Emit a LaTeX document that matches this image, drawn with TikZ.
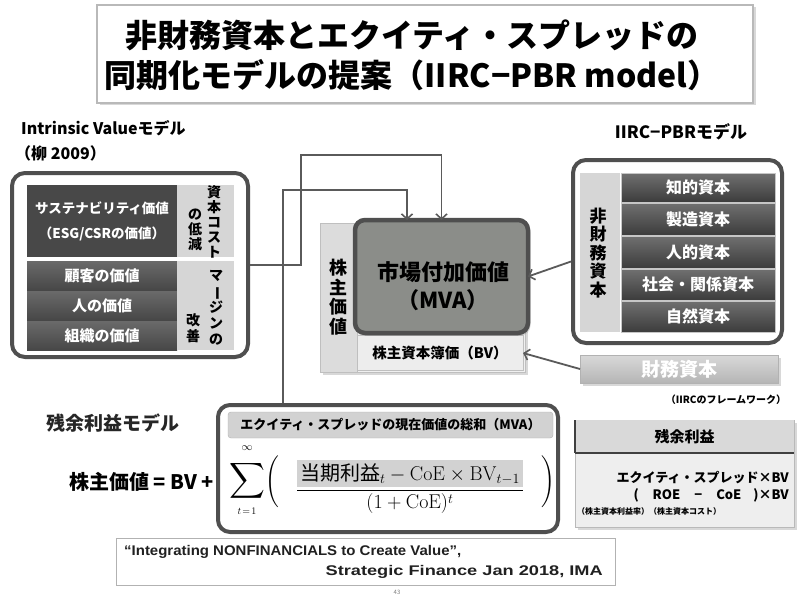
\documentclass[tikz,border=0pt]{standalone}
\usepackage{fix-cm}
\usepackage{amsmath}
\usepackage{graphicx}
\usepackage[no-math]{fontspec}
\setmainfont{Noto Sans CJK JP}
\newfontfamily\citefont{Liberation Sans}
\usetikzlibrary{arrows.meta,calc,shadows}
\definecolor{frame}{HTML}{4F4F4F}
\definecolor{darkbox}{HTML}{484848}
\definecolor{midtop}{HTML}{6A6A6A}
\definecolor{midbot}{HTML}{474747}
\definecolor{rowtop}{HTML}{707070}
\definecolor{rowbot}{HTML}{3C3C3C}
\definecolor{lightcol}{HTML}{D6D6D6}
\definecolor{mvafill}{HTML}{8B8D89}
\definecolor{hl}{HTML}{D2D2D2}
\definecolor{linec}{HTML}{5A5A5A}
\newcommand{\fs}[1]{\fontsize{#1}{#1}\selectfont}
\newcommand{\vbar}{\rotatebox[origin=c]{-90}{ー}}
\tikzset{
  bigframe/.style={draw=frame, line width=4pt, rounded corners=13pt, fill=white, inner sep=0pt},
  cell/.style={inner sep=0pt, outer sep=0pt, align=center},
  darkcell/.style={cell, fill=darkbox, text=white, font=\bfseries\fontsize{13.5}{25}\selectfont},
  midcell/.style={cell, top color=midtop, bottom color=midbot, text=white, minimum width=150pt, minimum height=29pt, font=\bfseries\fs{15}},
  lightcell/.style={cell, fill=lightcol},
  vtext/.style={cell, font=\bfseries\fontsize{14}{15}\selectfont},
  rowcell/.style={cell, top color=rowtop, bottom color=rowbot, draw=gray!45, line width=0.6pt, text=white, minimum width=154pt, font=\bfseries\fs{16}},
  conn/.style={draw=linec, line width=1.8pt, -{Straight Barb[length=5pt,width=11pt,line width=1.6pt]}},
  softshadow/.style={drop shadow={shadow xshift=2.5pt, shadow yshift=-2.5pt, opacity=0.3}}
}
\begin{document}
\begin{tikzpicture}[x=1pt,y=-1pt]
\useasboundingbox (0,0) rectangle (797,599);
\fill[white] (0,0) rectangle (797,599);

% ---------- title ----------
\node[cell, draw=gray!55, line width=1.2pt, fill=white, minimum width=656pt, minimum height=98pt, softshadow] (titlebox) at (425,54) {};
\node[cell, font=\bfseries\fontsize{32}{40}\selectfont] (title) at (412,55) {非財務資本とエクイティ・スプレッドの\\同期化モデルの提案（IIRC−PBR model）};

% ---------- left: intrinsic value model ----------
\node[anchor=west, inner sep=0pt, font=\bfseries\fs{16}] (ivl) at (21,128) {Intrinsic Valueモデル};
\node[anchor=west, inner sep=0pt, font=\bfseries\fs{16}] (ivy) at (15,153) {（柳 2009）};

\node[bigframe, minimum width=236pt, minimum height=184pt] (L) at (130,265) {};
\node[darkcell, minimum width=150pt, minimum height=72pt] (sus) at (102,221) {サステナビリティ価値\\（ESG/CSRの価値）};
\node[lightcell, minimum width=57pt, minimum height=72pt] (c1) at (205.5,221) {};
\node[vtext] (c1a) at (214,222) {資\\本\\コ\\ス\\ト};
\node[vtext] (c1b) at (195,230) {の\\低\\減};
\node[midcell] (kok) at (102,275.5) {顧客の価値};
\node[midcell] (hit) at (102,305.5) {人の価値};
\node[midcell] (sos) at (102,335.5) {組織の価値};
\node[lightcell, minimum width=57pt, minimum height=89pt] (c2) at (205.5,305.5) {};
\node[vtext, font=\bfseries\fontsize{14}{16}\selectfont] (c2a) at (216,308) {マ\\\vbar\\ジ\\ン\\の};
\node[vtext, font=\bfseries\fontsize{14}{16}\selectfont] (c2b) at (193,328) {改\\善};

% ---------- middle: shareholder value ----------
\node[cell, draw=gray!50, fill=gray!12, minimum width=205pt, minimum height=149pt, softshadow] (shbg) at (422.5,297.5) {};
\node[cell, fill=lightcol!85, draw=gray!50, minimum width=37pt, minimum height=149pt] (shv) at (338.5,297.5) {};
\node[vtext, font=\bfseries\fontsize{18}{19.5}\selectfont] (shvt) at (338.5,297) {株\\主\\価\\値};
\node[cell, fill=gray!14, draw=gray!50, minimum width=166pt, minimum height=35pt, font=\bfseries\fs{14.5}] (bv) at (440,353) {株主資本簿価（BV）};
\node[cell, draw=frame, line width=4.5pt, rounded corners=10pt, fill=mvafill, minimum width=173pt, minimum height=113pt, softshadow] (mva) at (441.5,276.5) {};
\node[cell, font=\bfseries\fontsize{22}{28}\selectfont] (mvat) at (443,286) {市場付加価値\\（MVA）};

% ---------- right: IIRC-PBR model ----------
\node[inner sep=0pt, font=\bfseries\fs{17}] (irl) at (681,132) {IIRC−PBRモデル};
\node[bigframe, minimum width=209pt, minimum height=183pt] (R) at (677.5,251.5) {};
\node[lightcell, minimum width=40pt, minimum height=159pt] (nf) at (600,252.5) {};
\node[vtext, font=\bfseries\fontsize{17}{18.5}\selectfont] (nft) at (598,253) {非\\財\\務\\資\\本};
\node[rowcell, minimum height=29pt] (r1) at (698,187.5) {知的資本};
\node[rowcell, minimum height=32pt] (r2) at (698,219) {製造資本};
\node[rowcell, minimum height=32pt] (r3) at (698,252) {人的資本};
\node[rowcell, minimum height=31pt] (r4) at (698,284.5) {社会・関係資本};
\node[rowcell, minimum height=31pt] (r5) at (698,316.5) {自然資本};
\node[cell, top color=gray!30, bottom color=gray!58, draw=gray!60, minimum width=198pt, minimum height=28pt, text=white, font=\bfseries\fs{19}, softshadow] (fin) at (679,369) {財務資本};
\node[inner sep=0pt, font=\bfseries\fs{10}] (irf) at (726,400) {（IIRCのフレームワーク）};

% ---------- bottom: residual income model ----------
\node[anchor=west, inner sep=0pt, font=\bfseries\fs{19}, text=gray!30!black] (zrm) at (46,423) {残余利益モデル};
\node[bigframe, minimum width=340pt, minimum height=127pt, rounded corners=12pt] (F) at (388,468.5) {};
\node[cell, fill=hl, draw=gray!60, rounded corners=3pt, minimum width=325pt, minimum height=26pt, font=\bfseries\fs{13}] (Fh) at (390.5,425) {エクイティ・スプレッドの現在価値の総和（MVA）};

\node[anchor=east, inner sep=0pt, font=\bfseries\fs{20}] (lhs) at (214,482) {株主価値 = BV +};
\node[cell] (sig) at (247,481) {\fs{23}$\displaystyle\sum$};
\node[cell] (inf) at (247,448) {\fs{11}$\infty$};
\node[cell] (tlo) at (247,511) {\fs{10}$t\!=\!1$};
\node[cell] (lp) at (272,482) {\fs{18}$\Biggl($};
\node[cell] (frac) at (410,487) {\fs{20}$\dfrac{\colorbox{hl}{$\mbox{当期利益}_t - \mathrm{CoE}\times\mathrm{BV}_{t-1}$}}{(1+\mathrm{CoE})^{t}}$};
\node[cell] (rp) at (548,482) {\fs{18}$\Biggr)$};

% ---------- bottom right: residual income ----------
\node[cell, fill=gray!13, draw=gray!55, minimum width=219pt, minimum height=107pt, softshadow] (RI) at (684.5,473.5) {};
\node[cell, fill=gray!30, minimum width=219pt, minimum height=33pt, font=\bfseries\fs{15}] (RIh) at (684.5,436.5) {残余利益};
\draw[line width=2pt, gray!50!black] (RIh.south west) -- (RIh.south east);
\draw[line width=1.5pt, gray!50!black] (RIh.north west) -- (RIh.south west);
\node[anchor=east, inner sep=0pt, font=\bfseries\fs{13}] (ri1) at (789,478) {エクイティ・スプレッド×BV};
\node[anchor=east, inner sep=0pt, font=\bfseries\fs{13}] (ri2) at (789,495) {(\hspace{14pt}ROE\hspace{14pt}−\hspace{14pt}CoE\hspace{12pt})×BV};
\node[anchor=west, inner sep=0pt, font=\bfseries\fs{8}] (ri3) at (577,511) {（株主資本利益率）（株主資本コスト）};

% ---------- citation ----------
\node[cell, draw=gray!60, line width=1pt, minimum width=499pt, minimum height=47pt] (C) at (365.5,561.5) {};
\node[anchor=west, inner sep=0pt, font=\citefont\bfseries\fs{14}, text=gray!25!black] (cit1) at (124,552) {\scalebox{1.07}[1]{“Integrating NONFINANCIALS to Create Value”,}};
\node[anchor=east, inner sep=0pt, font=\citefont\bfseries\fs{14}, text=gray!25!black] (cit2) at (603,572) {\scalebox{1.3}[1]{Strategic Finance Jan 2018, IMA}};
\node[inner sep=0pt, font=\fs{6}, text=gray] (pg) at (397,592) {43};

% ---------- connectors ----------
\coordinate (k1) at (301,155);
\coordinate (k2) at (283,190);
\coordinate (k3) at (407,190);
\draw[conn] (F.north -| k2) |- (k3) -- (k3 |- mva.north);
\draw[conn] (L.east) -| (k1) -| (mva.north);
\draw[conn] ([yshift=-10pt]R.west) -- (mva.east);
\draw[conn] (fin.west) -- (bv.east);
\end{tikzpicture}
\end{document}
